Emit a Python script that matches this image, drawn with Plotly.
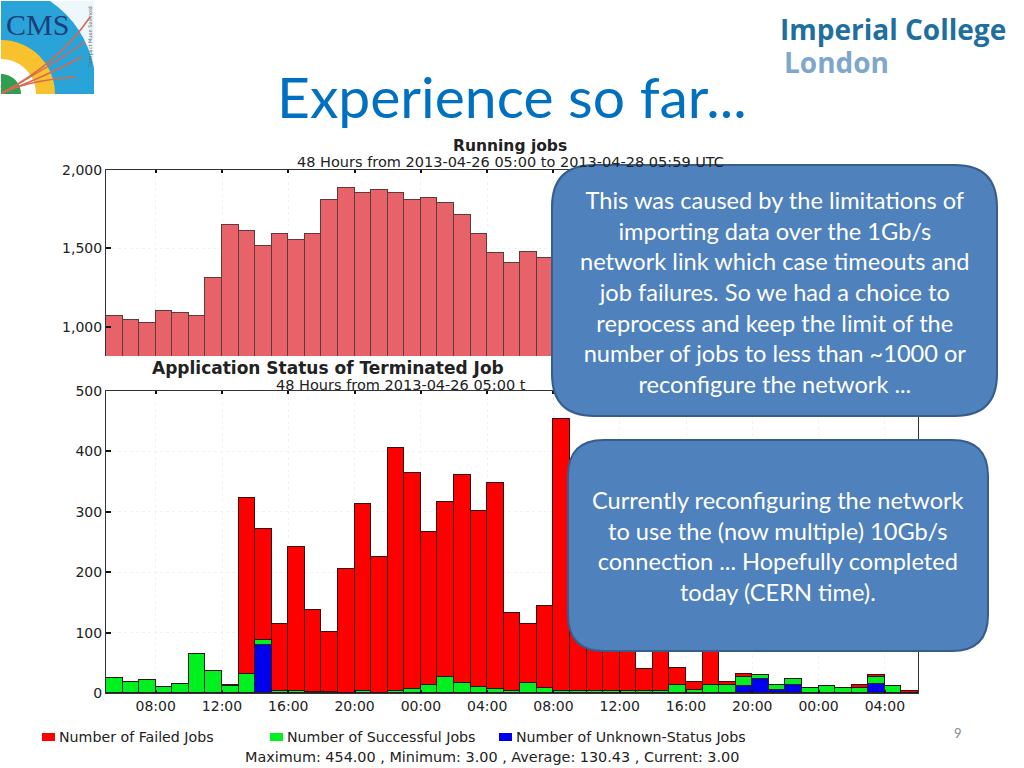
import pandas as pd
import plotly.graph_objects as go

# hourly bins, 2013-04-26 05:00 onwards
hours = pd.date_range("2013-04-26 05:00", periods=49, freq="h")

# running jobs - only the first 27 bins are visible, rest is behind the callout
running = [1068, 1042, 1025, 1099, 1089, 1070, 1314, 1650, 1612, 1513, 1593, 1555, 1593, 1812,
           1888, 1852, 1874, 1852, 1812, 1821, 1789, 1713, 1593, 1473, 1409, 1479, 1437]

failed = [0, 0, 0, 0, 0, 0, 0, 3, 291, 184, 112, 238, 135, 99, 205, 310, 226,
          401, 358, 253, 289, 345, 292, 341, 130, 98, 135, 451,
          157, 127, 146, 117, 37, 96, 28, 13, 71, 5, 5, 1, 0, 0, 0, 1, 0, 5, 4, 0, 3]
successful = [25, 19, 21, 10, 15, 65, 36, 11, 32, 9, 3, 3, 2, 2, 0, 3, 0,
              4, 7, 14, 27, 16, 10, 6, 3, 16, 9, 3,
              3, 3, 4, 3, 3, 4, 14, 5, 14, 14, 15, 6, 8, 10, 8, 11, 8, 8, 11, 11, 0]
unknown = [0, 0, 0, 0, 0, 0, 0, 0, 0, 79, 0, 0, 0, 0, 0, 0, 0,
           0, 0, 0, 0, 0, 0, 0, 0, 0, 0, 0,
           0, 0, 0, 0, 0, 0, 0, 0, 0, 0, 11, 23, 5, 13, 0, 0, 0, 0, 15, 0, 0]

legend_labels = ["Number of Failed Jobs", "Number of Successful Jobs", "Number of Unknown-Status Jobs"]
subtitle = "48 Hours from 2013-04-26 05:00 to 2013-04-28 05:59 UTC"
stats = "Maximum: 454.00 , Minimum: 3.00 , Average: 130.43 , Current: 3.00"
box_one = ("This was caused by the limitations of<br>importing data over the 1Gb/s<br>"
           "network link which case timeouts and<br>job failures. So we had a choice to<br>"
           "reprocess and keep the limit of the<br>number of jobs to less than ~1000 or<br>"
           "reconfigure the network ...")
box_two = ("Currently reconfiguring the network<br>to use the (now multiple) 10Gb/s<br>"
           "connection ... Hopefully completed<br>today (CERN time).")

W, H = 1024, 768
PLOT_FONT = "DejaVu Sans"
BAR_MS = 3600000
RED, GREEN, BLUE = "#ff0000", "#00f020", "#0000ee"


def px(x):
    return x / W


def py(y):
    return 1 - y / H


def path(cmds):
    # cmds is a list of (letter, x, y, ...) in page pixels
    out = []
    for c in cmds:
        if c[0] == "Z":
            out.append("Z")
            continue
        nums = []
        for i in range(1, len(c), 2):
            nums.append(f"{px(c[i]):.5f},{py(c[i + 1]):.5f}")
        out.append(c[0] + " ".join(nums))
    return " ".join(out)


def round_box(x0, y0, x1, y1, r):
    return path([("M", x0 + r, y0), ("L", x1 - r, y0), ("Q", x1, y0, x1, y0 + r),
                 ("L", x1, y1 - r), ("Q", x1, y1, x1 - r, y1), ("L", x0 + r, y1),
                 ("Q", x0, y1, x0, y1 - r), ("L", x0, y0 + r), ("Q", x0, y0, x0 + r, y0), ("Z",)])


def wedge(r, cx=1, cy=94):
    k = 0.552 * r
    return path([("M", cx, cy), ("L", cx, cy - r),
                 ("C", cx + k, cy - r, cx + r, cy - k, cx + r, cy), ("Z",)])


fig = go.Figure()

fig.add_trace(go.Bar(x=hours[:len(running)], y=running, width=BAR_MS, offset=0, showlegend=False,
                     marker=dict(color="#e8626a", line=dict(color="#5f3a3c", width=1)),
                     xaxis="x", yaxis="y"))
fig.add_trace(go.Bar(x=hours, y=unknown, width=BAR_MS, offset=0, showlegend=False,
                     marker=dict(color=BLUE, line=dict(color="#222222", width=1)),
                     xaxis="x2", yaxis="y2"))
fig.add_trace(go.Bar(x=hours, y=successful, width=BAR_MS, offset=0, showlegend=False,
                     marker=dict(color=GREEN, line=dict(color="#222222", width=1)),
                     xaxis="x2", yaxis="y2"))
fig.add_trace(go.Bar(x=hours, y=failed, width=BAR_MS, offset=0, showlegend=False,
                     marker=dict(color=RED, line=dict(color="#331111", width=1)),
                     xaxis="x2", yaxis="y2"))

x_common = dict(type="date", range=["2013-04-26 05:00", "2013-04-28 06:00"], tick0="2013-04-26 00:00",
                dtick=4 * BAR_MS, tickformat="%H:%M", domain=[px(106), px(918)], showgrid=True,
                gridcolor="#f2f2f2", griddash="dot", gridwidth=1, ticks="inside", ticklen=3, tickwidth=2,
                tickcolor="#111111", showline=True, linecolor="#333333", linewidth=1)
y_common = dict(showgrid=True, gridcolor="#f2f2f2", griddash="dot", gridwidth=1, ticks="inside", ticklen=5,
                tickwidth=2, tickcolor="#111111", showline=True, linecolor="#333333", linewidth=1,
                tickformat=",", zeroline=False, tickfont=dict(family=PLOT_FONT, size=14, color="#222222"))

shapes = [
    # callouts
    dict(type="path", path=round_box(552, 165, 997, 416, 42), fillcolor="#4f81bd",
         line=dict(color="#385d8a", width=2), layer="above"),
    dict(type="path", path=round_box(568, 440, 988, 651, 36), fillcolor="#4f81bd",
         line=dict(color="#385d8a", width=2), layer="above"),
    # CMS logo
    dict(type="rect", x0=px(1), x1=px(94), y0=py(94), y1=py(1), fillcolor="#eef7fb", line_width=0, layer="above"),
    dict(type="path", path=path([("M", 1, 94), ("L", 1, 1), ("L", 50, 1), ("Q", 85, 25, 94, 68), ("L", 94, 94), ("Z",)]),
         fillcolor="#2aa3d8", line_width=0, layer="above"),
    dict(type="path", path=wedge(54), fillcolor="#f7c22e", line_width=0, layer="above"),
    dict(type="path", path=wedge(35), fillcolor="#ffffff", line_width=0, layer="above"),
    dict(type="path", path=wedge(20), fillcolor="#2f9e4f", line_width=0, layer="above"),
]
tracks = [(60, 62, 90, 17), (48, 68, 85, 42), (42, 78, 82, 57), (30, 80, 75, 77)]
for cx, cy, ex, ey in tracks:
    shapes.append(dict(type="path", path=path([("M", 2, 93), ("Q", cx, cy, ex, ey)]),
                       line=dict(color="#d9694f", width=1.5), layer="above"))

annotations = []


def text(x, y, s, size, color="#222222", family=PLOT_FONT, anchor="left", **kw):
    annotations.append(dict(xref="paper", yref="paper", x=px(x), y=py(y), text=s, showarrow=False,
                            xanchor=anchor, yanchor="middle", borderpad=0,
                            font=dict(family=family, size=size, color=color), **kw))


# legend row under the lower chart
for label, colour, lx in zip(legend_labels, [RED, GREEN, BLUE], [42, 270, 499]):
    shapes.append(dict(type="rect", x0=px(lx), x1=px(lx + 13), y0=py(741), y1=py(733),
                       fillcolor=colour, line_width=0, layer="above"))
    text(lx + 16, 737, label, 14.2)

text(512, 96, "Experience so far...", 57, "#0070c0", "Lato", "center")
text(510, 146, "<b>Running jobs</b>", 15.5, anchor="center")
text(510, 162, subtitle, 14.5, anchor="center")
text(151, 368, "<b>Application Status of Terminated Job</b>", 17)
text(275, 385, subtitle[:32], 14.5)
text(244, 757, stats, 14.4)
text(775, 292, box_one, 23.6, "#ffffff", "Lato", "center")
text(778, 546, box_two, 23.6, "#ffffff", "Lato", "center")
text(37, 24, "CMS", 30, "#1c3f7c", "Liberation Serif", "center")
text(90, 37, "Compact Muon Solenoid", 5, "#666666", anchor="center", textangle=-90)
text(893, 29, "<b>Imperial College</b>", 28, "#1f6f9e", "Open Sans", "center")
text(836, 62, "<b>London</b>", 28, "#7fa7cc", "Open Sans", "center")
text(958, 733, "9", 13, "#8a8a8a", "Lato", "center")

for s in shapes:
    s.update(xref="paper", yref="paper")

fig.update_layout(
    width=W, height=H, margin=dict(l=0, r=0, t=0, b=0, autoexpand=False),
    paper_bgcolor="white", plot_bgcolor="white",
    barmode="stack", bargap=0, showlegend=False,
    xaxis=dict(x_common, anchor="y", side="top", showticklabels=False),
    yaxis=dict(y_common, domain=[py(356), py(170)], range=[815, 2000], dtick=500, anchor="x"),
    xaxis2=dict(x_common, anchor="y2", mirror="ticks", tickfont=dict(family=PLOT_FONT, size=14, color="#222222")),
    yaxis2=dict(y_common, domain=[py(693), py(391)], range=[0, 500], dtick=100, anchor="x2", mirror="ticks"),
    shapes=shapes, annotations=annotations, hovermode=False,
)

fig.write_html("out.html", config=dict(displayModeBar=False), post_script="document.body.style.margin='0';")
